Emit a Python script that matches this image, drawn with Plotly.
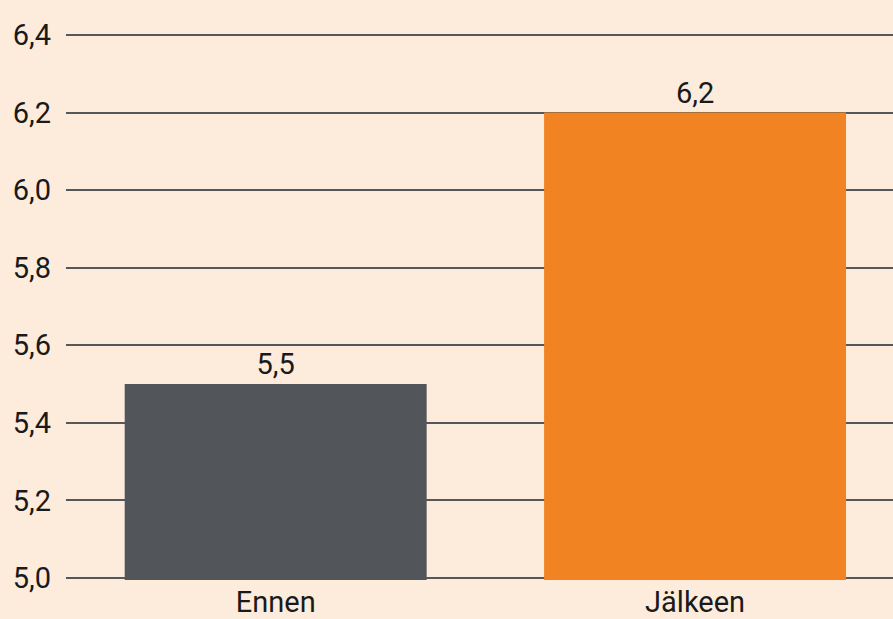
import plotly.graph_objects as go

categories = ["Ennen", "Jälkeen"]
values = [5.5, 6.2]
bar_colors = ["#52565a", "#f28323"]
y_ticks = [5.0, 5.2, 5.4, 5.6, 5.8, 6.0, 6.2, 6.4]
y_tick_labels = ["5,0", "5,2", "5,4", "5,6", "5,8", "6,0", "6,2", "6,4"]

fig = go.Figure(go.Bar(
    x=categories, y=values,
    marker=dict(color=bar_colors, line=dict(width=0)),
    width=0.72,
    text=[f"{v:.1f}".replace(".", ",") for v in values],
    textposition="outside",
    cliponaxis=False,
    textfont=dict(size=29, color="#1a1a1a"),
))

fig.update_layout(
    width=893, height=619,
    paper_bgcolor="#fdecdc", plot_bgcolor="#fdecdc",
    margin=dict(l=66, r=0, t=33, b=37),
    font=dict(family="Roboto", size=29, color="#1a1a1a"),
    showlegend=False,
)
fig.update_xaxes(
    range=[-0.5, 1.472], showgrid=False, zeroline=False, showline=False,
    ticks="", ticklabelstandoff=2,
)
fig.update_yaxes(
    range=[4.995, 6.405], tickvals=y_ticks, ticktext=y_tick_labels,
    showgrid=True, gridcolor="#54585a", gridwidth=2,
    zeroline=False, showline=False, ticks="", ticklabelstandoff=14,
)

fig.write_html(
    "out.html",
    config={"displayModeBar": False},
    post_script="document.body.style.margin='0';document.body.style.padding='0';",
)
